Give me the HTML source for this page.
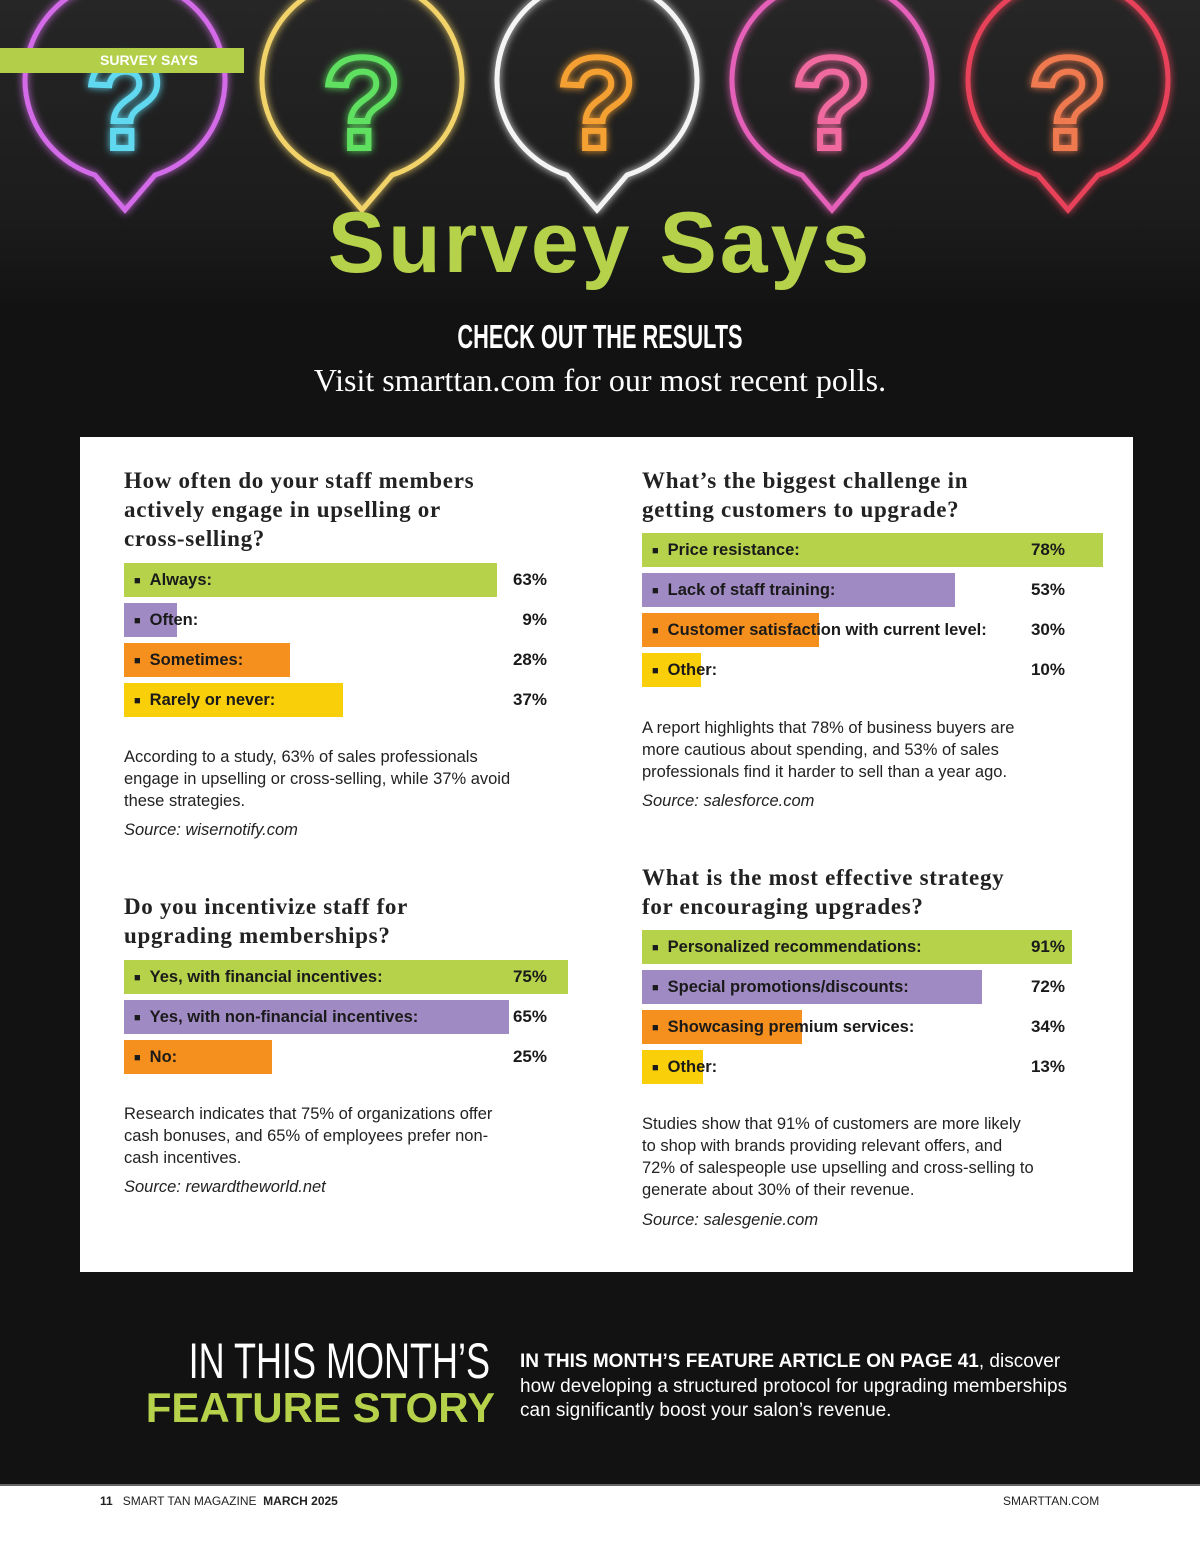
<!DOCTYPE html>
<html><head><meta charset="utf-8">
<style>
*{margin:0;padding:0;box-sizing:border-box}
body{width:1200px;height:1564px;background:#121212;font-family:"Liberation Sans",sans-serif;position:relative;overflow:hidden}
.abs{position:absolute}
.hero{left:0;top:0;width:1200px;height:305px;background:linear-gradient(#262626,#1c1c1c 70%,#131313);overflow:hidden}
.tag{left:0;top:48px;width:244px;height:25px;background:#b3cf4a;color:#fff;font-weight:bold;font-size:14px;line-height:25px;padding-left:100px}
.title{left:0;width:1200px;top:194px;text-align:center;color:#b5d24a;font-weight:bold;font-size:86px;letter-spacing:3px}
.sub{left:0;width:1200px;top:318px;text-align:center;color:#fff;font-weight:bold;font-size:33px;transform:scaleX(0.66);}
.visit{left:0;width:1200px;top:362px;text-align:center;color:#fff;font-family:"Liberation Serif",serif;font-size:32px}
.card{left:80px;top:437px;width:1053px;height:835px;background:#fff}
.q{font-family:"Liberation Serif",serif;font-weight:bold;font-size:23px;letter-spacing:0.7px;line-height:29px;color:#222}
.bar{height:34px}
.lbl{font-weight:bold;font-size:16.5px;color:#1a1a1a;line-height:34px;white-space:nowrap}
.pct{font-weight:bold;font-size:17px;color:#1a1a1a;line-height:34px;text-align:right;width:60px}
.body{font-size:16.5px;line-height:22px;color:#222}
.src{font-size:16.5px;font-style:italic;color:#222}
.footer{left:0;top:1484px;width:1200px;height:80px;background:#fff;border-top:2px solid #666}
</style></head><body>
<div class="abs hero">
<svg width="1200" height="305">
<defs><filter id="g" x="-50%" y="-50%" width="200%" height="200%"><feGaussianBlur stdDeviation="4" result="b"/><feMerge><feMergeNode in="b"/><feMergeNode in="SourceGraphic"/></feMerge></filter></defs>
<g filter="url(#g)" fill="none" stroke-width="5" stroke-linecap="round">
<path d="M95 175 A100 100 0 1 1 155 175 L125 210 Z" stroke="#d36ae8"/>
<path d="M332 175 A100 100 0 1 1 392 175 L362 210 Z" stroke="#f2d36a"/>
<path d="M567 175 A100 100 0 1 1 627 175 L597 210 Z" stroke="#f4f4f4"/>
<path d="M802 175 A100 100 0 1 1 862 175 L832 210 Z" stroke="#e560b8"/>
<path d="M1038 175 A100 100 0 1 1 1098 175 L1068 210 Z" stroke="#e8435a"/>
</g>
<g font-family="Liberation Sans" font-weight="bold" font-size="130" text-anchor="middle" fill="none" stroke-width="6" filter="url(#g)">
<text x="125" y="148" stroke="#5fd8f0">?</text>
<text x="362" y="148" stroke="#5fe060">?</text>
<text x="597" y="148" stroke="#f5a030">?</text>
<text x="832" y="148" stroke="#f06aa0">?</text>
<text x="1068" y="148" stroke="#f07a50">?</text>
</g>
</svg>
</div>
<div class="abs tag">SURVEY SAYS</div>
<div class="abs title">Survey Says</div>
<div class="abs sub">CHECK OUT THE RESULTS</div>
<div class="abs visit">Visit smarttan.com for our most recent polls.</div>
<div class="abs card"></div>
<div id="charts"></div>

<div class="abs" style="left:0;width:490px;top:1332px;text-align:right;color:#fff;font-size:50px;transform:scaleX(0.72);transform-origin:right;">IN THIS MONTH’S</div>
<div class="abs" style="left:0;width:495px;top:1384px;text-align:right;color:#b5d24a;font-weight:bold;font-size:42px;">FEATURE STORY</div>
<div class="abs" style="left:520px;top:1350px;width:575px;color:#fff;font-size:19px;line-height:24.5px"><b>IN THIS MONTH’S FEATURE ARTICLE ON PAGE 41</b>, discover how developing a structured protocol for upgrading memberships can significantly boost your salon’s revenue.</div>
<div class="abs footer">
<div class="abs" style="left:100px;top:8px;font-size:12px;color:#222"><b>11</b> &nbsp; SMART TAN MAGAZINE &nbsp;<b>MARCH 2025</b></div>
<div class="abs" style="left:1003px;top:8px;font-size:12px;color:#222">SMARTTAN.COM</div>
</div>

<script>
const colors=['#b5d24a','#a08ac4','#f5901e','#f9cf0a'];
const c1Cats=['Always:','Often:','Sometimes:','Rarely or never:'];
const c1Vals=[63,9,28,37];
const c2Cats=['Price resistance:','Lack of staff training:','Customer satisfaction with current level:','Other:'];
const c2Vals=[78,53,30,10];
const c3Cats=['Yes, with financial incentives:','Yes, with non-financial incentives:','No:'];
const c3Vals=[75,65,25];
const c4Cats=['Personalized recommendations:','Special promotions/discounts:','Showcasing premium services:','Other:'];
const c4Vals=[91,72,34,13];

const root=document.getElementById('charts');
function add(html,x,y,cls,name){
  const d=document.createElement('div');
  d.className='abs '+(cls||'');
  d.style.left=x+'px';d.style.top=y+'px';
  d.innerHTML=html;
  
  
  root.appendChild(d);return d;
}
function chart(x,y,cats,vals,scale,pctRight,name){
  const xs=v=>v*scale;
  cats.forEach((c,i)=>{
    const top=y+i*40;
    const b=add('',x,top,'bar',name+'-bar-'+(i+1));
    b.style.width=xs(vals[i])+'px';b.style.background=colors[i];
    add('<span style="font-size:11px;margin-right:9px;vertical-align:1px">■</span>'+c,x+10,top,'lbl',name+'-label-'+(i+1));
    add(vals[i]+'%',pctRight-60,top,'pct',name+'-value-'+(i+1));
  });
}
add('How often do your staff members<br>actively engage in upselling or<br>cross-selling?',124,466,'q','q1-title');
chart(124,563,c1Cats,c1Vals,5.92,547,'q1');
add('<div style="width:430px">According to a study, 63% of sales professionals<br>engage in upselling or cross-selling, while 37% avoid<br>these strategies.</div>',124,746,'body','q1-note');
add('Source: wisernotify.com',124,821,'src','q1-source');

add('What’s the biggest challenge in<br>getting customers to upgrade?',642,466,'q','q2-title');
chart(642,533,c2Cats,c2Vals,5.91,1065,'q2');
add('<div style="width:440px">A report highlights that 78% of business buyers are<br>more cautious about spending, and 53% of sales<br>professionals find it harder to sell than a year ago.</div>',642,717,'body','q2-note');
add('Source: salesforce.com',642,792,'src','q2-source');

add('Do you incentivize staff for<br>upgrading memberships?',124,892,'q','q3-title');
chart(124,960,c3Cats,c3Vals,5.92,547,'q3');
add('<div style="width:430px">Research indicates that 75% of organizations offer<br>cash bonuses, and 65% of employees prefer non-<br>cash incentives.</div>',124,1103,'body','q3-note');
add('Source: rewardtheworld.net',124,1178,'src','q3-source');

add('What is the most effective strategy<br>for encouraging upgrades?',642,863,'q','q4-title');
chart(642,930,c4Cats,c4Vals,4.72,1065,'q4');
add('<div style="width:450px">Studies show that 91% of customers are more likely<br>to shop with brands providing relevant offers, and<br>72% of salespeople use upselling and cross-selling to<br>generate about 30% of their revenue.</div>',642,1113,'body','q4-note');
add('Source: salesgenie.com',642,1211,'src','q4-source');
</script>
</body></html>
